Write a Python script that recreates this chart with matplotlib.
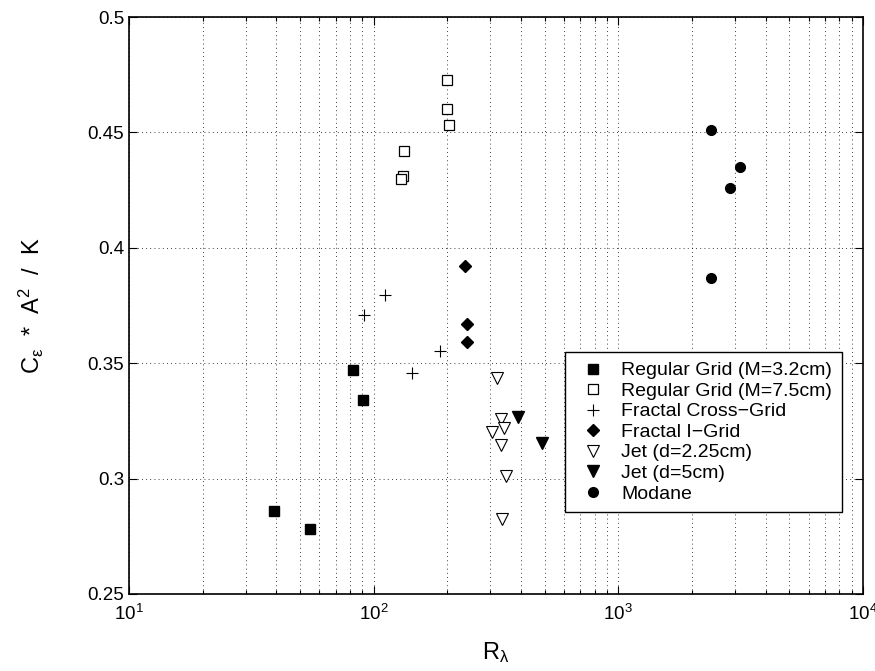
import matplotlib
matplotlib.use("Agg")
import matplotlib.pyplot as plt
from matplotlib.ticker import FixedLocator, FixedFormatter, LogLocator, NullFormatter

plt.rcParams['font.family'] = ['Liberation Sans', 'DejaVu Sans']
plt.rcParams['mathtext.default'] = 'regular'

# Data
rg32_x = [39, 55, 82, 90.5]
rg32_y = [0.286, 0.278, 0.347, 0.334]
rg75_x = [199.6, 198.5, 203.4, 133.6, 131.5, 129.4]
rg75_y = [0.4725, 0.4602, 0.4532, 0.4418, 0.4313, 0.4296]
fcg_x = [111.3, 91.1, 187.5, 144.1]
fcg_y = [0.3796, 0.3711, 0.3552, 0.3457]
fig_x = [236, 240, 240]
fig_y = [0.3922, 0.3672, 0.359]
jet225_x = [318.6, 330, 341, 304.8, 333, 346.8, 334]
jet225_y = [0.3438, 0.3259, 0.3219, 0.3203, 0.3145, 0.3011, 0.2823]
jet5_x = [390.8, 488]
jet5_y = [0.3265, 0.3153]
mod_x = [2400, 3150, 2850, 2400]
mod_y = [0.451, 0.435, 0.426, 0.387]

labels = ['Regular Grid (M=3.2cm)', 'Regular Grid (M=7.5cm)', 'Fractal Cross\u2212Grid',
          'Fractal I\u2212Grid', 'Jet (d=2.25cm)', 'Jet (d=5cm)', 'Modane']
yticks = [0.25, 0.3, 0.35, 0.4, 0.45, 0.5]
ytick_labels = ['0.25', '0.3', '0.35', '0.4', '0.45', '0.5']
xticks = [10, 100, 1000, 10000]
xtick_labels = ['$10^{1}$', '$10^{2}$', '$10^{3}$', '$10^{4}$']

fig = plt.figure(figsize=(8.75, 6.71), dpi=100)
ax = fig.add_axes([129/875, 77/671, 734/875, 577/671])

ax.plot(rg32_x, rg32_y, 's', color='k', mfc='k', ms=6.5, ls='none', label=labels[0])
ax.plot(rg75_x, rg75_y, 's', color='k', mfc='white', ms=6.5, mew=0.9, ls='none', label=labels[1])
ax.plot(fcg_x, fcg_y, '+', color='k', ms=8, mew=0.8, ls='none', label=labels[2])
ax.plot(fig_x, fig_y, 'D', color='k', mfc='k', ms=6.5, ls='none', label=labels[3])
ax.plot(jet225_x, jet225_y, 'v', color='k', mfc='white', ms=8, mew=0.8, ls='none', label=labels[4])
ax.plot(jet5_x, jet5_y, 'v', color='k', mfc='k', ms=8, ls='none', label=labels[5])
ax.plot(mod_x, mod_y, 'o', color='k', mfc='k', ms=7, ls='none', label=labels[6])

ax.set_xscale('log')
ax.set_xlim(10, 10000)
ax.set_ylim(0.25, 0.5)
ax.xaxis.set_major_locator(FixedLocator(xticks))
ax.xaxis.set_major_formatter(FixedFormatter(xtick_labels))
ax.xaxis.set_minor_locator(LogLocator(base=10, subs=range(2, 10)))
ax.xaxis.set_minor_formatter(NullFormatter())
ax.yaxis.set_major_locator(FixedLocator(yticks))
ax.yaxis.set_major_formatter(FixedFormatter(ytick_labels))

ax.grid(True, which='major', axis='both', color='k', linestyle=(0, (1, 4)), linewidth=0.6)
ax.grid(True, which='minor', axis='x', color='k', linestyle=(0, (1, 4)), linewidth=0.6)

ax.tick_params(which='both', direction='in', top=True, right=True, labelsize=13.5, width=0.8)
ax.tick_params(which='major', length=6)
ax.tick_params(which='minor', length=3)
ax.tick_params(axis='x', which='major', pad=7)
for s in ax.spines.values():
    s.set_linewidth(1.2)

ax.set_xlabel('R$_{λ}$', fontsize=17, labelpad=12)
ax.set_ylabel('C$_{ε}$  *  A$^{2}$  /  K', fontsize=17, labelpad=30)

leg = ax.legend(loc='upper right', bbox_to_anchor=(0.971, 0.4194), borderaxespad=0,
                fontsize=14, frameon=True, fancybox=False, edgecolor='k',
                labelspacing=0.15, handletextpad=0.5, handlelength=1.9,
                borderpad=0.5, numpoints=1)
leg.get_frame().set_linewidth(1.0)
leg.get_frame().set_alpha(1)

fig.savefig('out.png', dpi=100, facecolor='white')
